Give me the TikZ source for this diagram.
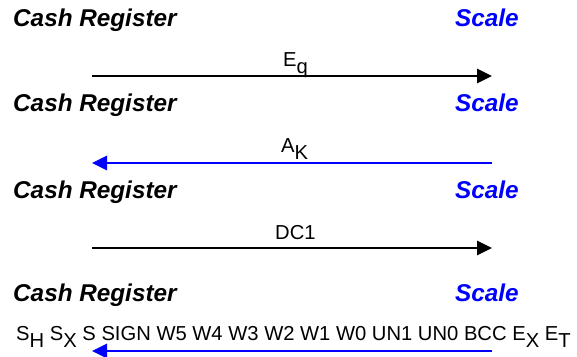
\documentclass[tikz,border=0pt]{standalone}
\usepackage{fontspec}
\setmainfont{Liberation Sans}
\usetikzlibrary{arrows.meta}
\newcommand{\lowsub}[1]{\raisebox{-6.5pt}{#1}}
\tikzset{
    party/.style = {inner sep=0pt, anchor=base west, font=\fontsize{24.3}{28}\selectfont\bfseries\itshape},
    msg/.style = {inner sep=0pt, anchor=base west, font=\fontsize{20.2}{24}\selectfont},
    flow/.style = {line width=2.7pt, -{Triangle[length=15pt,width=14pt]}}
}
\begin{document}
\begin{tikzpicture}[x=1pt, y=-1pt]
        \useasboundingbox (0,0) rectangle (577,356);
        % stations, one row per step
        \node[party] (cr1) at (13,26.5) {Cash Register};
        \node[party] (cr2) at (13,111.5) {Cash Register};
        \node[party] (cr3) at (13,198.5) {Cash Register};
        \node[party] (cr4) at (13,301.5) {Cash Register};
        \node[party, text=blue] (sc1) at (455,26.5) {Scale};
        \node[party, text=blue] (sc2) at (455,111.5) {Scale};
        \node[party, text=blue] (sc3) at (455,198.5) {Scale};
        \node[party, text=blue] (sc4) at (455,301.5) {Scale};
        % ends of the arrows
        \coordinate (l1) at (92,76);
        \coordinate (r1) at (492,76);
        \coordinate (l2) at (92,163);
        \coordinate (r2) at (492,163);
        \coordinate (l3) at (92,248);
        \coordinate (r3) at (492,248);
        \coordinate (l4) at (92,351);
        \coordinate (r4) at (492,351);
        \draw[flow] (l1) -- (r1);
        \draw[flow, blue] (r2) -- (l2);
        \draw[flow] (l3) -- (r3);
        \draw[flow, blue] (r4) -- (l4);
        % messages
        \node[msg] (eq) at (283,66.5) {E\lowsub{q}};
        \node[msg] (ak) at (281,152.5) {A\lowsub{K}};
        \node[msg] (dc) at (275,239.5) {DC1};
        \node[msg] (frame) at (16,340.5) {S\lowsub{H} S\lowsub{X} S SIGN W5 W4 W3 W2 W1 W0 UN1 UN0 BCC E\lowsub{X} E\lowsub{T}};
    \end{tikzpicture}
\end{document}
